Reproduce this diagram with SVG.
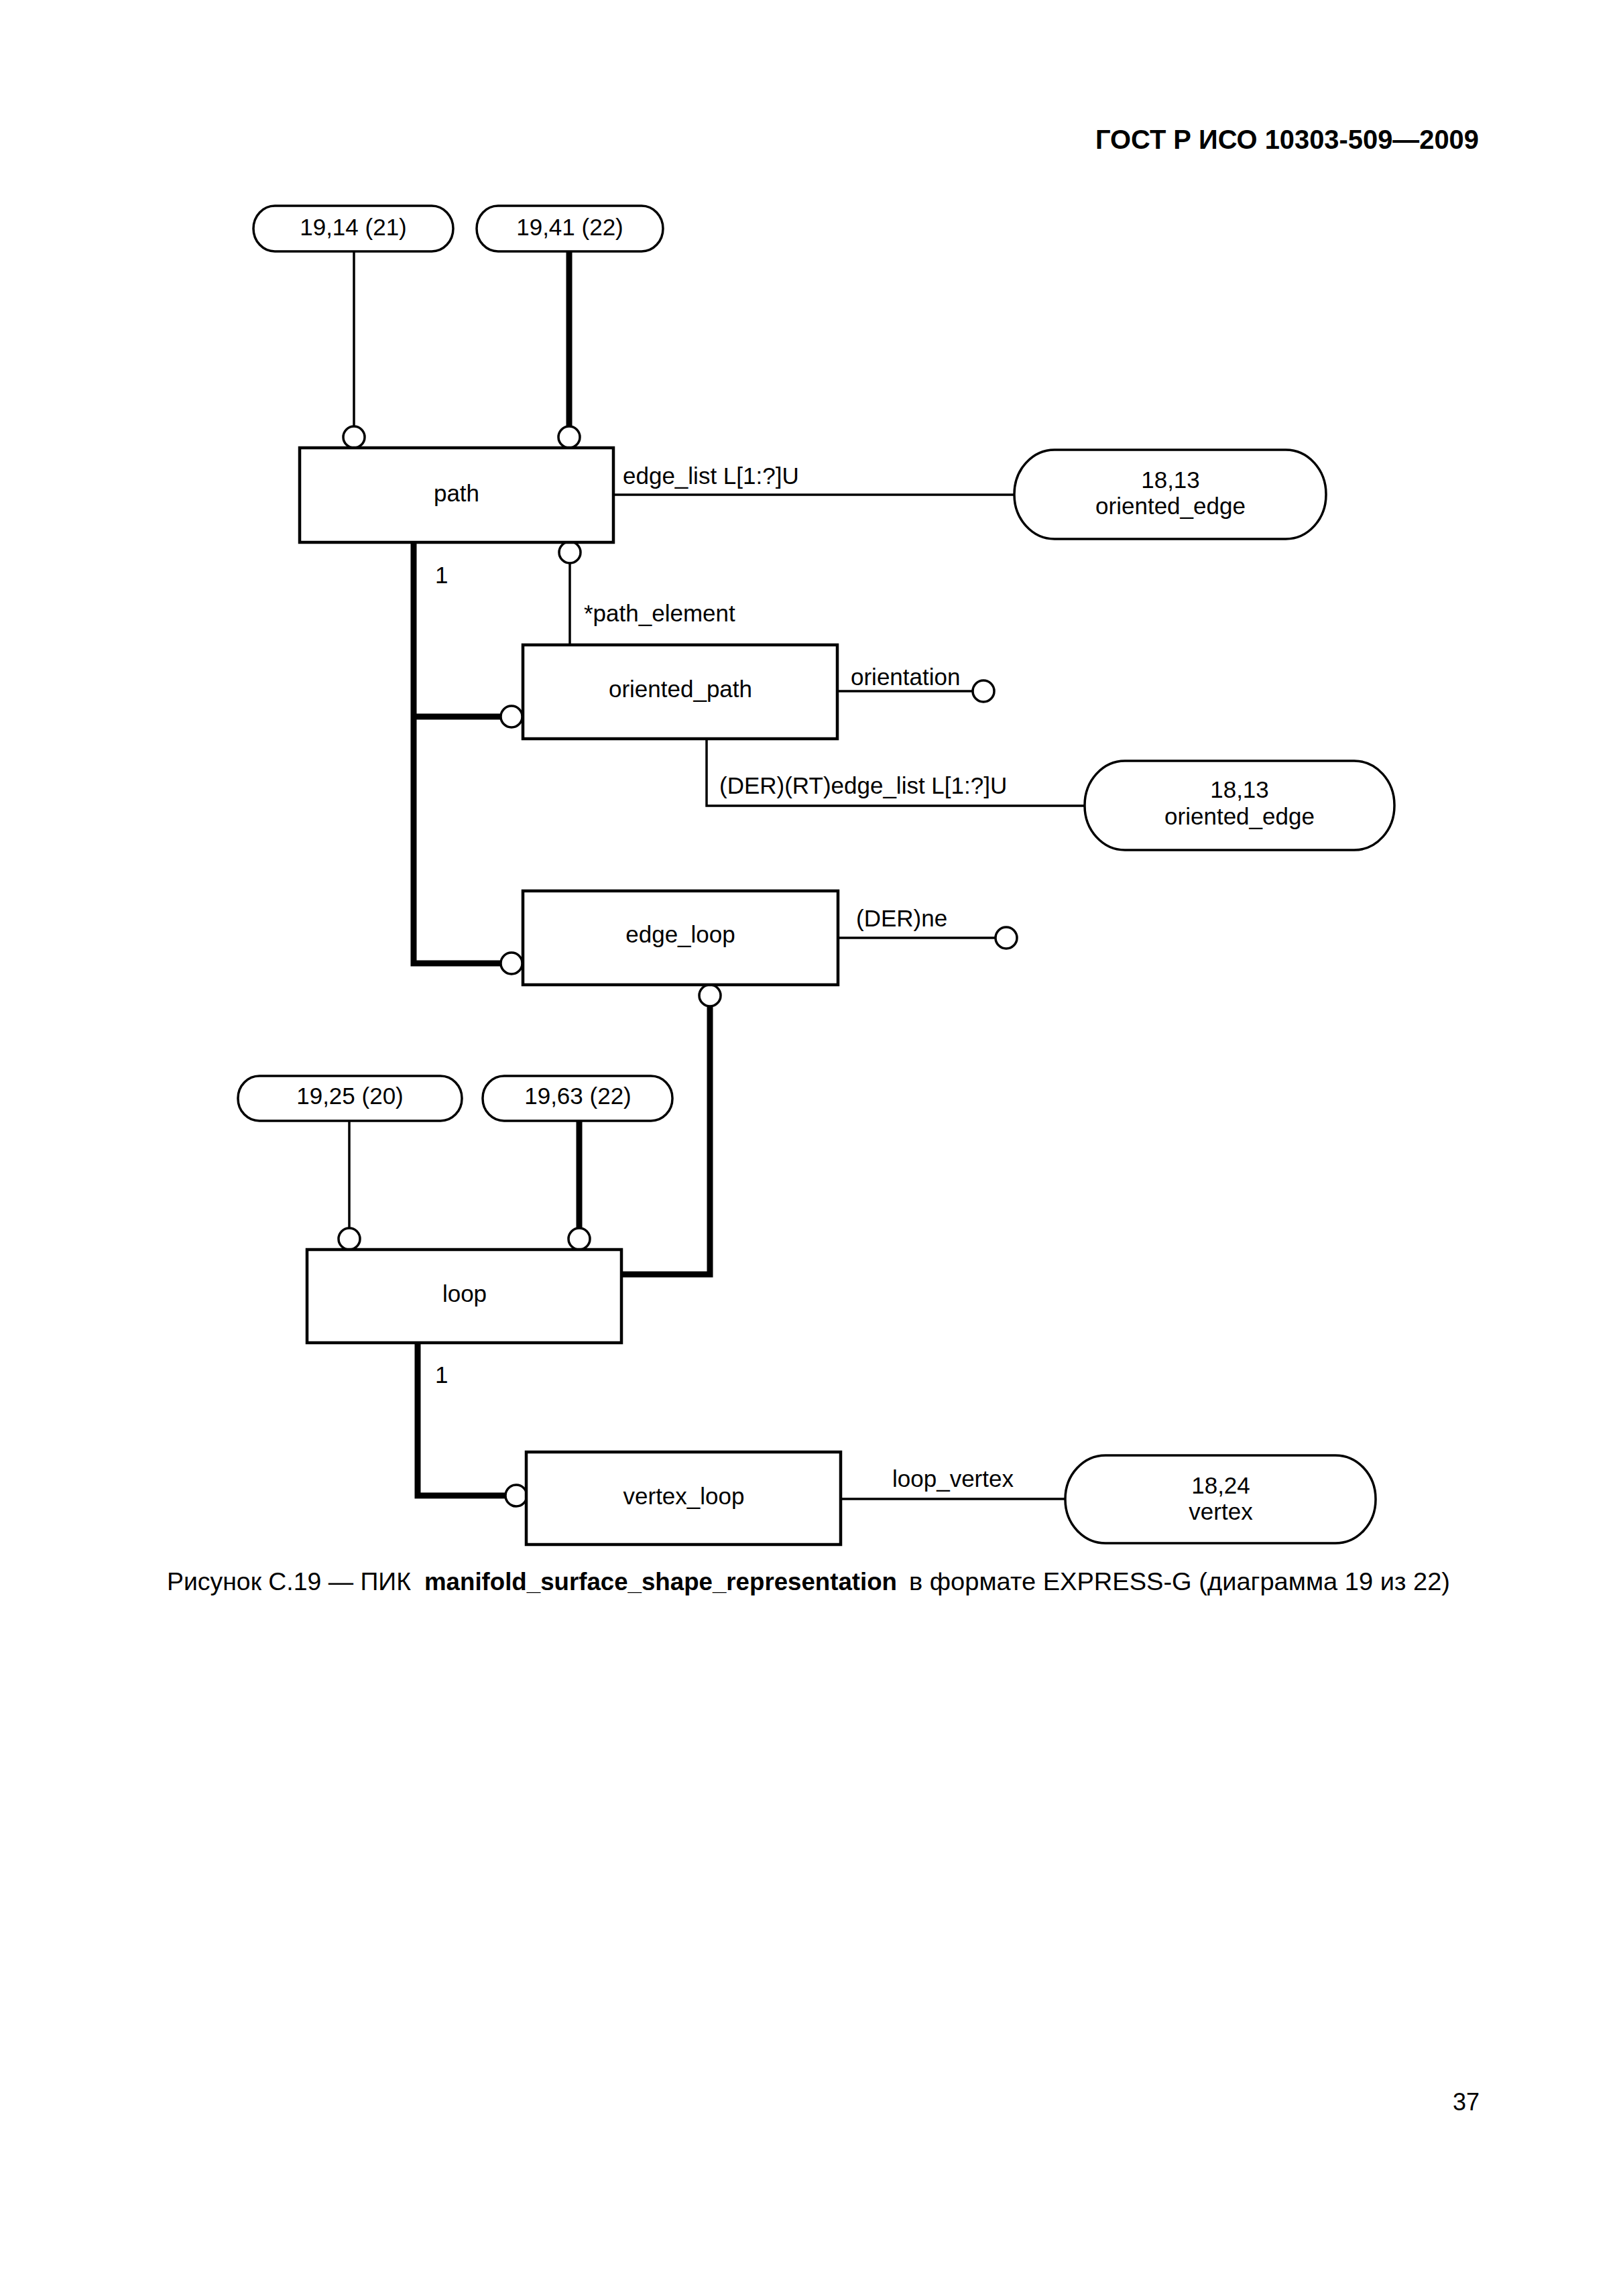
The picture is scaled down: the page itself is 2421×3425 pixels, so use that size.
<svg xmlns="http://www.w3.org/2000/svg" width="2421" height="3425" viewBox="0 0 2421 3425">
<style>
text{font-family:"Liberation Sans",Arial,sans-serif;font-size:35px;fill:#000}
.c{text-anchor:middle}
.box{fill:#fff;stroke:#000;stroke-width:4.5}
.ov{fill:#fff;stroke:#000;stroke-width:3.5}
.thin{fill:none;stroke:#000;stroke-width:3.5}
.thick{fill:none;stroke:#000;stroke-width:9}
.end{fill:#fff;stroke:#000;stroke-width:3.5}
.cap{font-size:36px}
</style>
<rect width="2421" height="3425" fill="#fff"/>
<text x="1634" y="222" textLength="572" lengthAdjust="spacingAndGlyphs" style="font-size:41px;font-weight:bold">ГОСТ Р ИСО 10303-509—2009</text>

<g id="connectors">
<line class="thin" x1="528" y1="375" x2="528" y2="636"/>
<line class="thick" x1="849" y1="375" x2="849" y2="636"/>
<circle class="end" cx="528" cy="652" r="16"/>
<circle class="end" cx="849" cy="652" r="16"/>
<line class="thin" x1="915" y1="738" x2="1513" y2="738"/>
<circle class="end" cx="850" cy="824" r="16"/>
<line class="thin" x1="850" y1="840" x2="850" y2="962"/>
<polyline class="thick" points="617,809 617,1437 746,1437"/>
<line class="thick" x1="617" y1="1069" x2="747" y2="1069"/>
<circle class="end" cx="763" cy="1069" r="16"/>
<circle class="end" cx="763" cy="1437" r="16"/>
<line class="thin" x1="1249" y1="1031" x2="1451" y2="1031"/>
<circle class="end" cx="1467" cy="1031" r="16"/>
<polyline class="thin" points="1054,1102 1054,1202 1618,1202"/>
<line class="thin" x1="1250" y1="1399" x2="1485" y2="1399"/>
<circle class="end" cx="1501" cy="1399" r="16"/>
<polyline class="thick" points="1059,1499 1059,1901 927,1901"/>
<circle class="end" cx="1059" cy="1485" r="16"/>
<line class="thin" x1="521" y1="1672" x2="521" y2="1831"/>
<line class="thick" x1="864" y1="1672" x2="864" y2="1831"/>
<circle class="end" cx="521" cy="1848" r="16"/>
<circle class="end" cx="864" cy="1848" r="16"/>
<polyline class="thick" points="623,2003 623,2231 754,2231"/>
<circle class="end" cx="770" cy="2231" r="16"/>
<line class="thin" x1="1254" y1="2236" x2="1589" y2="2236"/>
<text x="929" y="722">edge_list L[1:?]U</text>
<text x="871" y="927">*path_element</text>
<text x="649" y="870">1</text>
<text x="1269" y="1022">orientation</text>
<text x="1073" y="1184">(DER)(RT)edge_list L[1:?]U</text>
<text x="1277" y="1382">(DER)ne</text>
<text x="649" y="2063">1</text>
<text x="1331" y="2218">loop_vertex</text>
</g>

<g id="ref_19_14">
<rect class="ov" x="378" y="307" width="298" height="68" rx="32" ry="34"/>
<text class="c" x="527" y="351">19,14 (21)</text>
</g>
<g id="ref_19_41">
<rect class="ov" x="711" y="307" width="278" height="68" rx="32" ry="34"/>
<text class="c" x="850" y="351">19,41 (22)</text>
</g>
<g id="path">
<rect class="box" x="447" y="668" width="468" height="141"/>
<text class="c" x="681" y="748">path</text>
</g>
<g id="ref_oriented_edge_1">
<rect class="ov" x="1513" y="671" width="465" height="133" rx="60" ry="66"/>
<text class="c" x="1746" y="728">18,13</text>
<text class="c" x="1746" y="767">oriented_edge</text>
</g>
<g id="oriented_path">
<rect class="box" x="780" y="962" width="469" height="140"/>
<text class="c" x="1015" y="1040">oriented_path</text>
</g>
<g id="ref_oriented_edge_2">
<rect class="ov" x="1618" y="1135" width="462" height="133" rx="60" ry="66"/>
<text class="c" x="1849" y="1190">18,13</text>
<text class="c" x="1849" y="1230">oriented_edge</text>
</g>
<g id="edge_loop">
<rect class="box" x="780" y="1329" width="470" height="140"/>
<text class="c" x="1015" y="1406">edge_loop</text>
</g>
<g id="ref_19_25">
<rect class="ov" x="355" y="1605" width="334" height="67" rx="32" ry="33"/>
<text class="c" x="522" y="1647">19,25 (20)</text>
</g>
<g id="ref_19_63">
<rect class="ov" x="720" y="1605" width="283" height="67" rx="32" ry="33"/>
<text class="c" x="862" y="1647">19,63 (22)</text>
</g>
<g id="loop">
<rect class="box" x="458" y="1864" width="469" height="139"/>
<text class="c" x="693" y="1942">loop</text>
</g>
<g id="vertex_loop">
<rect class="box" x="785" y="2166" width="469" height="138"/>
<text class="c" x="1020" y="2244">vertex_loop</text>
</g>
<g id="ref_vertex">
<rect class="ov" x="1589" y="2171" width="463" height="131" rx="60" ry="65"/>
<text class="c" x="1821" y="2228">18,24</text>
<text class="c" x="1821" y="2267">vertex</text>
</g>

<text class="cap" x="249" y="2372" textLength="364" lengthAdjust="spacingAndGlyphs">Рисунок С.19 — ПИК</text>
<text class="cap" x="633" y="2372" textLength="705" lengthAdjust="spacingAndGlyphs" style="font-weight:bold">manifold_surface_shape_representation</text>
<text class="cap" x="1356" y="2372" textLength="807" lengthAdjust="spacingAndGlyphs">в формате EXPRESS-G (диаграмма 19 из 22)</text>
<text x="2207" y="3148" style="font-size:36px;text-anchor:end">37</text>
</svg>
